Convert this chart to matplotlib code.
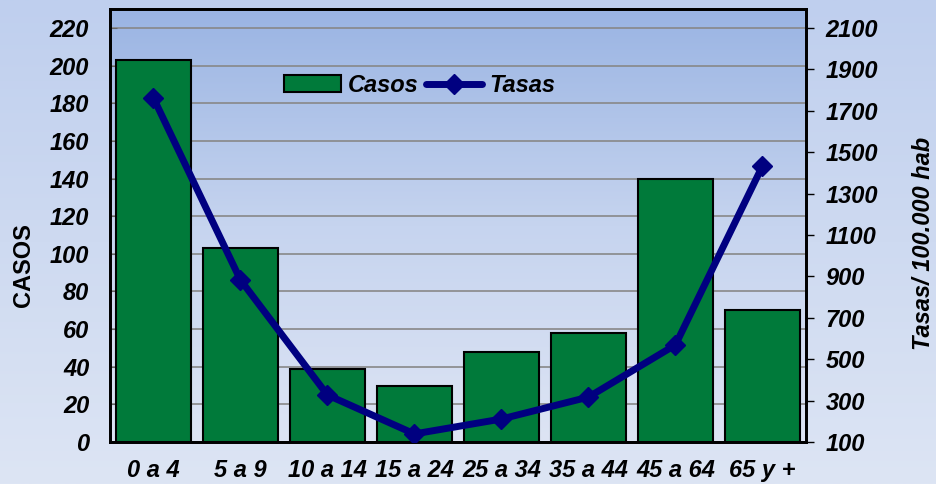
#!/usr/bin/env python3

import numpy as np
import matplotlib
matplotlib.use("Agg")
import matplotlib.pyplot as plt
from matplotlib.colors import LinearSegmentedColormap

grupos = ["0 a 4", "5 a 9", "10 a 14", "15 a 24", "25 a 34", "35 a 44", "45 a 64", "65 y +"]
casos = [203, 103, 39, 30, 48, 58, 140, 70]
tasas = [1762, 883, 327, 139, 211, 317, 569, 1433]

casos_ticks = list(range(0, 221, 20))
tasas_ticks = list(range(100, 2101, 200))

FS = 17


def main():
    plt.rcParams["font.family"] = ["Liberation Sans", "DejaVu Sans"]

    fig = plt.figure(figsize=(9.36, 4.84), dpi=100)

    # figure background gradient
    bg = fig.add_axes([0, 0, 1, 1], zorder=-10)
    bg_cmap = LinearSegmentedColormap.from_list("bg", ["#dde5f4", "#bfcfee"])
    bg.imshow(np.linspace(0, 1, 256).reshape(-1, 1), cmap=bg_cmap, aspect="auto",
              origin="lower", extent=[0, 1, 0, 1])
    bg.axis("off")

    ax = fig.add_axes([0.1175, 0.0868, 0.7435, 0.894])
    ax.patch.set_visible(False)
    plot_cmap = LinearSegmentedColormap.from_list("plot", ["#dde4f4", "#c6d4ef", "#9ab4e3"])
    ax.imshow(np.linspace(0, 1, 256).reshape(-1, 1), cmap=plot_cmap, aspect="auto",
              origin="lower", extent=[0, 1, 0, 1], transform=ax.transAxes, zorder=0)

    x = np.arange(len(grupos))
    ax.bar(x, casos, width=0.87, color="#007A3A", edgecolor="black", linewidth=1.5,
           label="Casos", zorder=3)
    ax.set_xlim(-0.5, len(grupos) - 0.5)
    ax.set_ylim(0, 230)
    ax.set_yticks(casos_ticks)
    ax.yaxis.grid(True, color="#888888", linewidth=1.2, zorder=1)
    ax.set_axisbelow(True)
    ax.set_xticks(x)
    ax.set_xticklabels(grupos)
    ax.tick_params(axis="x", length=0, pad=12)
    ax.tick_params(axis="y", direction="in", length=5, color="#666666", pad=15)
    for lab in ax.get_xticklabels() + ax.get_yticklabels():
        lab.set_fontsize(FS)
        lab.set_fontweight("bold")
        lab.set_fontstyle("italic")
    ax.set_ylabel("CASOS", fontsize=FS, fontweight="bold")
    ax.yaxis.set_label_coords(-0.108, 0.41)
    for s in ax.spines.values():
        s.set_linewidth(2)
        s.set_color("black")

    ax2 = ax.twinx()
    ax2.plot(x, tasas, color="#000080", linewidth=5, marker="D", markersize=10,
             label="Tasas", zorder=4, solid_capstyle="round", solid_joinstyle="miter")
    lo, hi = 100, 100 + 230 * 2000 / 220
    ax2.set_ylim(lo, hi)
    ax2.set_yticks(tasas_ticks)
    ax2.tick_params(axis="y", direction="out", length=6, width=1, pad=8)
    for lab in ax2.get_yticklabels():
        lab.set_fontsize(FS)
        lab.set_fontweight("bold")
        lab.set_fontstyle("italic")
    ax2.set_ylabel("Tasas/ 100.000 hab", fontsize=FS, fontweight="bold",
                   fontstyle="italic")
    ax2.yaxis.set_label_coords(1.152, 0.46)
    for s in ax2.spines.values():
        s.set_linewidth(2)

    h1, l1 = ax.get_legend_handles_labels()
    h2, l2 = ax2.get_legend_handles_labels()
    ax2.legend(h1 + h2, l1 + l2, loc="center", bbox_to_anchor=(0.445, 0.824),
               ncol=2, frameon=False, columnspacing=0.3, handletextpad=0.3,
               handlelength=2.4, prop={"size": FS, "weight": "bold", "style": "italic"})

    fig.savefig("out.png", dpi=100)


if __name__ == "__main__":
    main()
